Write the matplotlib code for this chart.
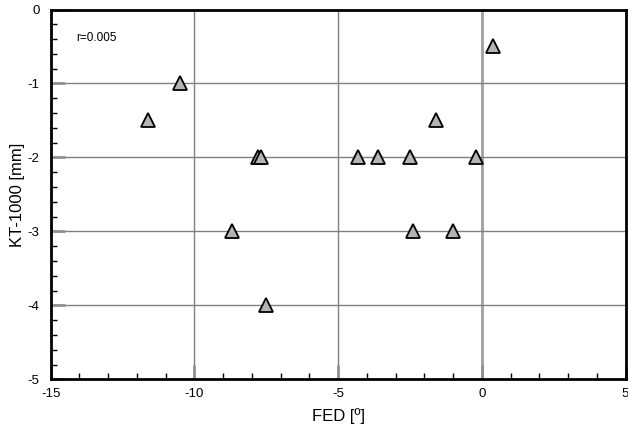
import matplotlib
matplotlib.use("Agg")
import matplotlib.pyplot as plt
from matplotlib.ticker import MultipleLocator

# values
fed = [-11.6, -10.5, -7.8, -7.7, -8.7, -7.5, -4.3, -3.6, -2.5, -2.4, -1.6, -1.0, -0.2, 0.4]
kt1000 = [-1.5, -1.0, -2.0, -2.0, -3.0, -4.0, -2.0, -2.0, -2.0, -3.0, -1.5, -3.0, -2.0, -0.5]
x_ticks = [-15, -10, -5, 0, 5]
y_ticks = [-5, -4, -3, -2, -1, 0]
note = "r=0.005"

plt.rcParams['font.family'] = ['Liberation Sans', 'DejaVu Sans']
plt.rcParams['axes.unicode_minus'] = False

fig = plt.figure(figsize=(6.28, 4.30), dpi=100)
ax = fig.add_axes([50.7 / 628, (430 - 379.3) / 430, (625.5 - 50.7) / 628, (379.3 - 9.5) / 430])

ax.set_xlim(-15, 5)
ax.set_ylim(-5, 0)

# grid lines (grey), zero line a bit heavier
for xv in x_ticks[1:-1]:
    lw, col = (2.0, '#a0a0a0') if xv == 0 else (1.0, '#808080')
    ax.axvline(xv, color=col, lw=lw, zorder=1)
for yv in y_ticks[1:-1]:
    ax.axhline(yv, color='#808080', lw=1.0, zorder=1)

ax.plot(fed, kt1000, linestyle='none', marker='^', markersize=9.5,
        markerfacecolor='#b4b4b4', markeredgecolor='black', markeredgewidth=1.3,
        zorder=3, clip_on=False)

ax.text(-14.1, -0.38, note, fontsize=8.5, va='center', ha='left')

ax.set_xticks(x_ticks)
ax.set_yticks(y_ticks)
ax.xaxis.set_minor_locator(MultipleLocator(1))
ax.yaxis.set_minor_locator(MultipleLocator(0.2))
ax.tick_params(which='major', direction='in', length=10, width=2.0, color='#909090',
               labelsize=9.5, top=False, right=False, pad=6)
ax.tick_params(which='minor', direction='in', length=4.5, width=1.0, color='black',
               top=False, right=False)
ax.tick_params(axis='y', which='major', pad=8)

for s in ax.spines.values():
    s.set_linewidth(2.0)
    s.set_color('black')

ax.set_xlabel("FED [º]", fontsize=12, labelpad=6)
ax.set_ylabel("KT-1000 [mm]", fontsize=12)
ax.yaxis.set_label_coords(-0.045, 0.5)

fig.savefig("out.png", dpi=100)
